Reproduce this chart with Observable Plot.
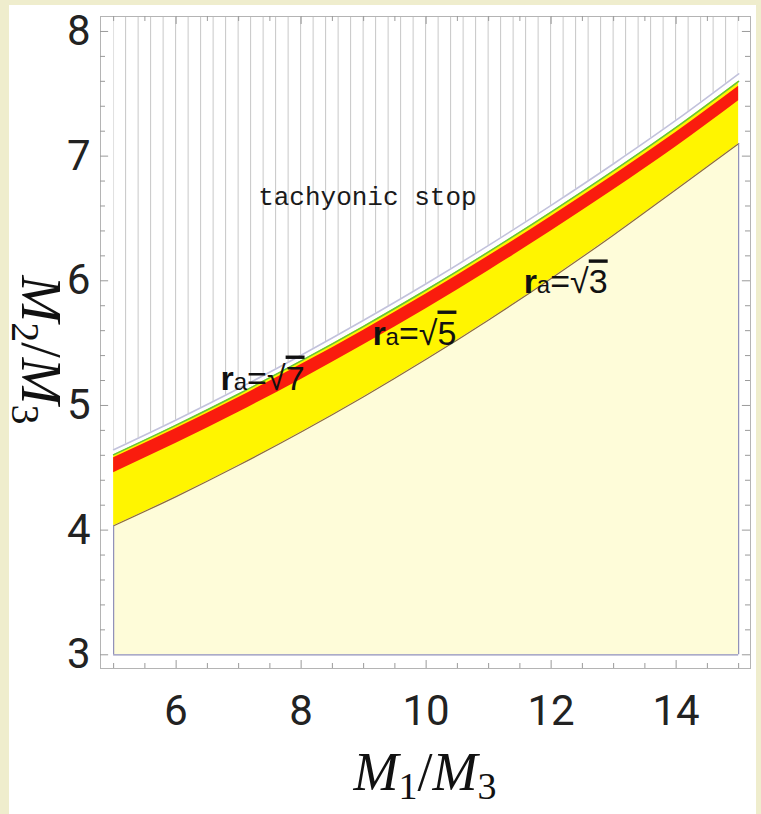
<!DOCTYPE html>
<html><head><meta charset="utf-8">
<script src="https://cdn.jsdelivr.net/npm/d3@7"></script>
<script src="https://cdn.jsdelivr.net/npm/@observablehq/plot@0.6"></script>
<style>
html,body{margin:0;padding:0;background:#efedcd;width:761px;height:814px;overflow:hidden}
#panel{position:absolute;left:9px;top:5px;width:747px;height:809px;background:#fff}
#chart{position:absolute;left:0;top:0}
</style></head><body><div id="panel"></div><div id="chart"></div>
<script>
// M1/M3 sample positions
const xs        = [5, 6, 7, 8, 9, 10, 11, 12, 13, 14, 15];
// tachyonic-stop boundary (M2/M3)
const boundary  = [4.645, 4.884, 5.136, 5.403, 5.683, 5.976, 6.284, 6.605, 6.939, 7.288, 7.66];
// r_a = sqrt(7) curve (green)
const green     = [4.605, 4.842, 5.092, 5.357, 5.635, 5.926, 6.232, 6.551, 6.883, 7.230, 7.60];
// r_a = sqrt(5) band (red)
const redTop    = [4.580, 4.816, 5.064, 5.328, 5.604, 5.894, 6.198, 6.516, 6.846, 7.192, 7.56];
const redBottom = [4.460, 4.696, 4.945, 5.209, 5.486, 5.776, 6.081, 6.399, 6.730, 7.076, 7.445];
// r_a = sqrt(3) curve (lower edge of yellow)
const lower     = [4.035, 4.269, 4.520, 4.787, 5.070, 5.370, 5.686, 6.019, 6.368, 6.733, 7.10];

const xLabels = [6, 8, 10, 12, 14];
const xMinor  = [5, 5.5, 6.5, 7, 7.5, 8.5, 9, 9.5, 10.5, 11, 11.5, 12.5, 13, 13.5, 14.5, 15];
const yLabels = [3, 4, 5, 6, 7, 8];
const yMinor  = [3.2, 3.4, 3.6, 3.8, 4.2, 4.4, 4.6, 4.8, 5.2, 5.4, 5.6, 5.8, 6.2, 6.4, 6.6, 6.8, 7.2, 7.4, 7.6, 7.8];

const raTexts = ["√7", "√5", "√3"];
const raX     = [6.71, 9.14, 11.56];
const raY     = [5.215, 5.576, 5.986];

const noteText = ["tachyonic stop"];
const noteX = [9.06];
const noteY = [6.676];

const rows = xs.map((x, i) => ({x, boundary: boundary[i], green: green[i], redTop: redTop[i], redBottom: redBottom[i], lower: lower[i]}));
const raRows = raTexts.map((t, i) => ({t, x: raX[i], y: raY[i]}));
const noteRows = noteText.map((t, i) => ({t, x: noteX[i], y: noteY[i]}));

const xDom = [4.79, 15.19], yDom = [2.89, 8.12];
const yMin = 3, xMin = 5, xMax = 15;
const curve = "monotone-x";
const tickCol = "#9a9a9a";
const majX = 0.064, minX = 0.04;   // tick lengths (y units) for x ticks
const majY = 0.13, minY = 0.08;    // tick lengths (x units) for y ticks
const tickFont = "'Liberation Sans Narrow', Roboto, sans-serif";

const svg = Plot.plot({
  width: 761, height: 814,
  marginLeft: 100, marginRight: 11, marginTop: 16, marginBottom: 146,
  style: {background: "transparent", fontFamily: "Liberation Sans, sans-serif", color: "#222"},
  x: {domain: xDom, axis: null},
  y: {domain: yDom, axis: null},
  marks: [
    Plot.areaY(rows, {x: "x", y1: yMin, y2: "lower", fill: "#fefcd9", curve}),
    Plot.areaY(rows, {x: "x", y1: "lower", y2: "green", fill: "#fff500", curve}),
    Plot.areaY(rows, {x: "x", y1: "redBottom", y2: "redTop", fill: "#fa1c0e", curve}),
    Plot.lineY(rows, {x: "x", y: "green", stroke: "#62c63c", strokeWidth: 1.5, curve}),
    Plot.lineY(rows, {x: "x", y: "lower", stroke: "#8d6b3b", strokeWidth: 1.2, curve}),
    Plot.areaY(rows, {x: "x", y1: "boundary", y2: yDom[1], fill: "url(#hatch)", curve}),
    Plot.lineY(rows, {x: "x", y: "boundary", stroke: "#c2c2dc", strokeWidth: 1.6, curve}),
    // outline of the allowed (light) region
    Plot.ruleX([xMin], {y1: yMin, y2: lower[0], stroke: "#8f8fb8", strokeWidth: 1.2}),
    Plot.ruleX([xMax], {y1: yMin, y2: lower[lower.length - 1], stroke: "#8f8fb8", strokeWidth: 1.2}),
    Plot.ruleY([yMin], {x1: xMin, x2: xMax, stroke: "#8f8fb8", strokeWidth: 1.2}),
    Plot.frame({stroke: "#b4b4b4"}),
    // frame ticks (all four sides, pointing inward)
    Plot.ruleX(xLabels, {y1: yDom[0], y2: yDom[0] + majX, stroke: tickCol}),
    Plot.ruleX(xMinor,  {y1: yDom[0], y2: yDom[0] + minX, stroke: tickCol}),
    Plot.ruleX(xLabels, {y1: yDom[1], y2: yDom[1] - majX, stroke: tickCol}),
    Plot.ruleX(xMinor,  {y1: yDom[1], y2: yDom[1] - minX, stroke: tickCol}),
    Plot.ruleY(yLabels, {x1: xDom[0], x2: xDom[0] + majY, stroke: tickCol}),
    Plot.ruleY(yMinor,  {x1: xDom[0], x2: xDom[0] + minY, stroke: tickCol}),
    Plot.ruleY(yLabels, {x1: xDom[1], x2: xDom[1] - majY, stroke: tickCol}),
    Plot.ruleY(yMinor,  {x1: xDom[1], x2: xDom[1] - minY, stroke: tickCol}),
    Plot.axisX(xLabels, {anchor: "bottom", tickSize: 0, tickPadding: 27, fontSize: 42, fontFamily: tickFont, tickFormat: d3.format("d"), label: null}),
    Plot.axisY(yLabels, {anchor: "left", tickSize: 0, tickPadding: 10, fontSize: 42, fontFamily: tickFont, tickFormat: d3.format("d"), label: null}),
    Plot.text(noteRows, {x: "x", y: "y", text: "t", fontSize: 26, fontFamily: "Liberation Mono, monospace", fill: "#1a1a1a"}),
    Plot.text(raRows, {x: "x", y: "y", text: "t", textAnchor: "start", fontSize: 34, fontFamily: "Liberation Sans, Arial, sans-serif", fill: "#111"})
  ]
});

// hatch pattern aligned with the x scale
const sx = svg.scale("x");
const hatchStep = 0.2;
const x0 = sx.apply(xMin);
const step = sx.apply(xMin + hatchStep) - x0;
const root = d3.select(svg);
const defs = root.insert("defs", ":first-child");
const pat = defs.append("pattern").attr("id", "hatch").attr("patternUnits", "userSpaceOnUse")
  .attr("x", x0 - 0.5).attr("y", 0).attr("width", step).attr("height", 20);
pat.append("line").attr("x1", 0.5).attr("x2", 0.5).attr("y1", 0).attr("y2", 20)
  .attr("stroke", "#c6c6c6").attr("stroke-width", 1);

// rich r_a labels
root.selectAll("text").filter(function () { return raTexts.includes(this.textContent); }).each(function () {
  const s = this.textContent;
  const t = d3.select(this);
  t.text(null);
  t.append("tspan").attr("font-weight", "bold").text("r");
  t.append("tspan").attr("font-size", 24).text("a");
  t.append("tspan").text("=");
  t.append("tspan").text(s.slice(0, 1));
  t.append("tspan").attr("text-decoration", "overline").text(s.slice(1));
});

// axis titles (math style)
const serif = "'Liberation Serif', 'DejaVu Serif', serif";
const xt = root.append("text").attr("x", 425).attr("y", 790).attr("text-anchor", "middle")
  .attr("font-family", serif).attr("font-size", 54).attr("fill", "#111");
xt.append("tspan").attr("font-style", "italic").text("M");
xt.append("tspan").attr("font-size", 38).attr("dy", 9).text("1");
xt.append("tspan").attr("dy", -9).text("/");
xt.append("tspan").attr("font-style", "italic").text("M");
xt.append("tspan").attr("font-size", 38).attr("dy", 9).text("3");

const yt = root.append("text").attr("transform", "translate(22,350) rotate(90)").attr("text-anchor", "middle")
  .attr("font-family", serif).attr("font-size", 56).attr("fill", "#111");
yt.append("tspan").attr("font-style", "italic").text("M");
yt.append("tspan").attr("font-size", 40).attr("dy", 10).text("2");
yt.append("tspan").attr("dy", -10).text("/");
yt.append("tspan").attr("font-style", "italic").text("M");
yt.append("tspan").attr("font-size", 40).attr("dy", 10).text("3");

document.getElementById("chart").appendChild(svg);
</script>
</body></html>
